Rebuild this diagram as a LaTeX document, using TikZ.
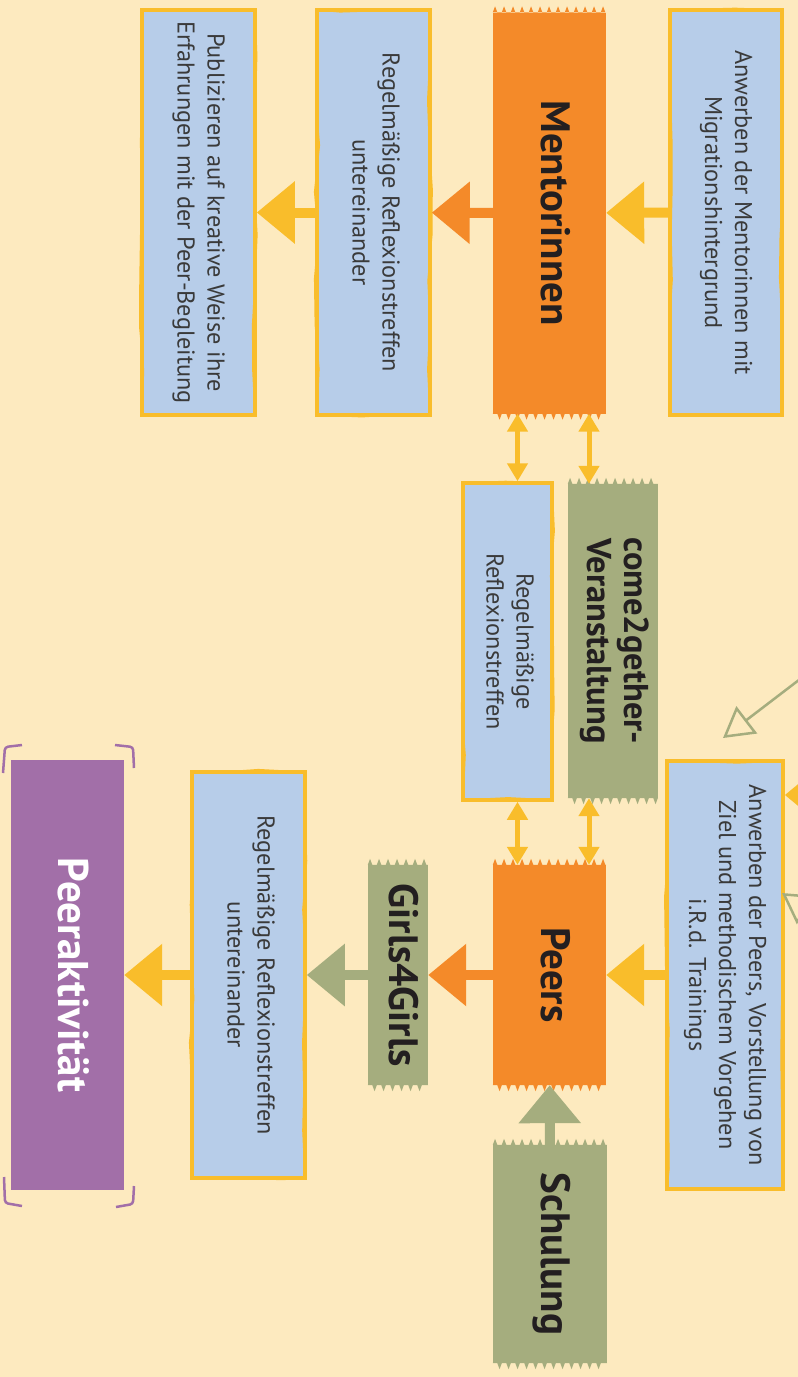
\documentclass[tikz,border=0pt]{standalone}
\usepackage{fontspec}
\setmainfont{PT Sans}
\usepackage{graphicx}
\usetikzlibrary{arrows.meta,decorations.pathmorphing}
\definecolor{bgcream}{HTML}{FDEABF}
\definecolor{boxblue}{HTML}{B7CDE9}
\definecolor{penyellow}{HTML}{F9BD2B}
\definecolor{tornorange}{HTML}{F48A29}
\definecolor{tornolive}{HTML}{A5AD7E}
\definecolor{peerpurple}{HTML}{A26FA8}
\definecolor{inkgrey}{HTML}{3A3A3A}
\definecolor{titleink}{HTML}{231F20}
\newcommand{\down}[1]{\rotatebox{-90}{\begin{tabular}{@{}c@{}}#1\end{tabular}}}
\newcommand{\tornends}[2]{%
  \fill[#2,decorate,decoration={zigzag,segment length=9pt,amplitude=6pt}] (#1.north west) -- (#1.north east);
  \fill[#2,decorate,decoration={zigzag,segment length=9pt,amplitude=6pt}] (#1.south west) -- (#1.south east);}
\pgfmathsetseed{7}

\begin{document}
\begin{tikzpicture}[x=1pt,y=-1pt,
    memo/.style={fill=boxblue,draw=penyellow,line width=3.5pt,inner sep=0pt,text=inkgrey,
      font=\fontsize{24.3}{30}\selectfont,
      postaction={draw=penyellow,line width=1.2pt,decorate,
        decoration={random steps,segment length=45pt,amplitude=2.5pt}}},
    torn/.style={fill=#1,inner sep=0pt,text=titleink,font=\bfseries\fontsize{41}{42}\selectfont},
    heavy/.style={draw=#1,line width=10pt,-{Triangle[length=38pt,width=60pt]}},
    twoway/.style={draw=penyellow,line width=5pt,{Triangle[length=18pt,width=20pt]}-{Triangle[length=18pt,width=20pt]}},
    sketch/.style={draw=tornolive,line width=2.5pt,-{Triangle[open,length=30pt,width=34pt]}},
    bracket/.style={draw=peerpurple,line width=2.5pt,rounded corners=3pt}]
    \useasboundingbox (0,0) rectangle (798,1377);
    \clip (0,0) rectangle (798,1377);
    \fill[bgcream] (0,0) rectangle (798,1377);

    \node[memo,minimum width=112pt,minimum height=405pt] (1) at (726,212.5) {\down{Anwerben der Mentorinnen mit\\Migrationshintergrund}};
    \node[torn=tornorange,minimum width=113pt,minimum height=401pt] (2) at (549.5,213) {\down{Mentorinnen}};
    \node[memo,minimum width=113pt,minimum height=405pt] (3) at (373.5,212.5) {\down{Regelmäßige Reflexionstreffen\\untereinander}};
    \node[memo,minimum width=113pt,minimum height=405pt] (4) at (198.5,212.5) {\down{Publizieren auf kreative Weise ihre\\Erfahrungen mit der Peer-Begleitung}};
    \node[torn=tornolive,minimum width=90pt,minimum height=314pt,font=\bfseries\fontsize{34.5}{37}\selectfont] (5) at (613,641) {\down{come2gether-\\Veranstaltung}};
    \node[memo,minimum width=89pt,minimum height=317pt] (6) at (507.5,641.5) {\down{Regelmäßige\\Reflexionstreffen}};
    \node[memo,minimum width=116pt,minimum height=428pt] (7) at (725,975) {\down{Anwerben der Peers, Vorstellung von\\Ziel und methodischem Vorgehen\\i.R.d. Trainings}};
    \node[torn=tornorange,minimum width=113pt,minimum height=220pt] (8) at (549.5,975) {\down{Peers}};
    \node[torn=tornolive,minimum width=60pt,minimum height=220pt] (9) at (398,975) {\down{Girls4Girls}};
    \node[memo,minimum width=113pt,minimum height=406pt] (10) at (248.5,975) {\down{Regelmäßige Reflexionstreffen\\untereinander}};
    \node[fill=peerpurple,text=white,inner sep=0pt,font=\bfseries\fontsize{43}{44}\selectfont,
      minimum width=113pt,minimum height=430pt] (11) at (67.5,975) {\down{Peeraktivität}};
    \node[torn=tornolive,minimum width=114pt,minimum height=218pt] (12) at (550,1254) {\down{Schulung}};

    \tornends{2}{tornorange}
    \tornends{8}{tornorange}
    \tornends{5}{tornolive}
    \tornends{9}{tornolive}
    \tornends{12}{tornolive}

    % arrows cut off at the right edge
    \coordinate (13) at (850,795);
    \coordinate (14) at (880,618);
    \coordinate (15) at (723,738);
    \coordinate (16) at (850,940);
    \coordinate (17) at (782,893);

    \path
	(1) edge[heavy=penyellow] (2)
	(2) edge[heavy=tornorange] (3)
	(3) edge[heavy=penyellow] (4)
	(7) edge[heavy=penyellow] (8)
	(8) edge[heavy=tornorange] (9)
	(9) edge[heavy=tornolive] (10)
	(10) edge[heavy=penyellow] (11)
	(12) edge[heavy=tornolive] (8)
	(13) edge[heavy=penyellow] (13 -| 7.east)
	(14) edge[sketch] (15)
	(16) edge[sketch] (17);

    \draw[twoway] ([xshift=-24pt]5.north) -- ([xshift=-24pt]5.north |- 2.south);
    \draw[twoway] ([xshift=10pt]6.north) -- ([xshift=10pt]6.north |- 2.south);
    \draw[twoway] ([xshift=-24pt]5.south) -- ([xshift=-24pt]5.south |- 8.north);
    \draw[twoway] ([xshift=10pt]6.south) -- ([xshift=10pt]6.south |- 8.north);

    \draw[bracket] (22,745) -- (5,747) -- (3,773);
    \draw[bracket] (115,745) -- (133,747) -- (134,768);
    \draw[bracket] (4,1177) -- (5,1203) -- (22,1206);
    \draw[bracket] (134,1186) -- (133,1204) -- (116,1207);
\end{tikzpicture}
\end{document}
